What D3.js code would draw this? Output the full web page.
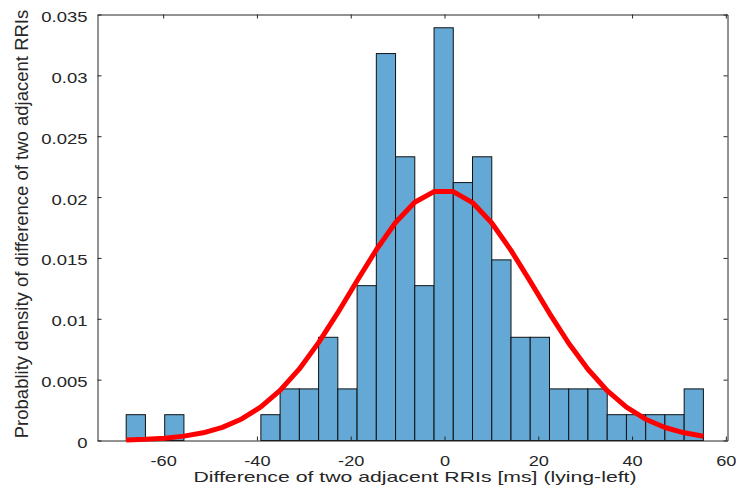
<!DOCTYPE html>
<html>
<head>
<meta charset="utf-8">
<script src="https://cdn.jsdelivr.net/npm/d3@7"></script>
<style>
  html, body { margin: 0; padding: 0; background: #ffffff; }
  svg { display: block; }
</style>
</head>
<body>
<div id="chart"></div>
<script>
// ---- data ----
const binEdges = [-67.88, -63.78, -59.67, -55.57, -51.47, -47.37, -43.26, -39.16, -35.06, -30.95,
                  -26.85, -22.75, -18.64, -14.54, -10.44, -6.34, -2.23, 1.87, 5.97, 10.08,
                  14.18, 18.28, 22.39, 26.49, 30.59, 34.70, 38.80, 42.90, 47.00, 51.11, 55.21];
const density = [0.00212, 0, 0.00212, 0, 0, 0, 0, 0.00212, 0.00424, 0.00424,
                 0.00848, 0.00424, 0.01272, 0.03179, 0.02331, 0.01272, 0.03391, 0.02119, 0.02331, 0.01484,
                 0.00848, 0.00848, 0.00424, 0.00424, 0.00424, 0.00212, 0.00212, 0.00212, 0.00212, 0.00424];
const fitCurve = [0.00005, 0.00010, 0.00019, 0.00036, 0.00063, 0.00108, 0.00177, 0.00276, 0.00412, 0.00588,
                  0.00804, 0.01050, 0.01312, 0.01567, 0.01791, 0.01957, 0.02045, 0.02045, 0.01955, 0.01787,
                  0.01562, 0.01307, 0.01045, 0.00799, 0.00585, 0.00409, 0.00274, 0.00175, 0.00107, 0.00063, 0.00035];
const xTickValues = [-60, -40, -20, 0, 20, 40, 60];
const xTickLabels = ["-60", "-40", "-20", "0", "20", "40", "60"];
const yTickValues = [0, 0.005, 0.01, 0.015, 0.02, 0.025, 0.03, 0.035];
const yTickLabels = ["0", "0.005", "0.01", "0.015", "0.02", "0.025", "0.03", "0.035"];
const xLabel = "Difference of two adjacent RRIs [ms] (lying-left)";
const yLabel = "Probablity density of difference of two adjacent RRIs";

(function () {
// ---- layout ----
const W = 736, H = 497;
const pLeft = 97.5, pRight = 727.5, pTop = 14.5, pBottom = 440.5;
const font = "'Liberation Sans', Arial, Helvetica, sans-serif";
const axisColor = "#262626";

const svg = d3.select("#chart").append("svg")
  .attr("width", W).attr("height", H)
  .style("background", "#ffffff");

const x = d3.scaleLinear().domain([-74, 60.35]).range([pLeft, pRight]);
const y = d3.scaleLinear().domain([0, 0.035]).range([pBottom, pTop]);

function stretch(sel, k) {
  sel.each(function () {
    const w = this.getComputedTextLength();
    d3.select(this).attr("textLength", w * k).attr("lengthAdjust", "spacingAndGlyphs");
  });
}

// ---- bars ----
const bins = density.map((d, i) => ({ x0: binEdges[i], x1: binEdges[i + 1], v: d }));
svg.append("g").selectAll("rect")
  .data(bins.filter(b => b.v > 0))
  .join("rect")
  .attr("x", b => x(b.x0))
  .attr("y", b => y(b.v))
  .attr("width", b => x(b.x1) - x(b.x0))
  .attr("height", b => y(0) - y(b.v))
  .attr("fill", "#64a9d6")
  .attr("stroke", "#111111")
  .attr("stroke-width", 1);

// ---- axes ----
function styleAxis(g) {
  g.select(".domain").attr("stroke", axisColor).attr("stroke-width", 1);
  g.selectAll(".tick line").attr("stroke", axisColor).attr("stroke-width", 1);
}

const gx = svg.append("g").attr("transform", `translate(0,${pBottom})`)
  .call(d3.axisBottom(x).tickValues(xTickValues).tickSizeInner(-4).tickSizeOuter(0)
        .tickFormat((d, i) => xTickLabels[i]));
styleAxis(gx);
gx.selectAll(".tick text")
  .attr("y", 25).attr("dy", 0)
  .attr("fill", axisColor)
  .style("font-family", font).style("font-size", "14px")
  .call(stretch, 1.3);

const gxt = svg.append("g").attr("transform", `translate(0,${pTop})`)
  .call(d3.axisTop(x).tickValues(xTickValues).tickSizeInner(-4).tickSizeOuter(0).tickFormat(""));
styleAxis(gxt);

const gy = svg.append("g").attr("transform", `translate(${pLeft},0)`)
  .call(d3.axisLeft(y).tickValues(yTickValues).tickSizeInner(-4).tickSizeOuter(0)
        .tickFormat((d, i) => yTickLabels[i]));
styleAxis(gy);
gy.selectAll(".tick text")
  .attr("x", -10).attr("y", 7).attr("dy", 0)
  .attr("text-anchor", "end")
  .attr("fill", axisColor)
  .style("font-family", font).style("font-size", "14px")
  .call(stretch, 1.32);

const gyr = svg.append("g").attr("transform", `translate(${pRight},0)`)
  .call(d3.axisRight(y).tickValues(yTickValues).tickSizeInner(-4).tickSizeOuter(0).tickFormat(""));
styleAxis(gyr);

// ---- fitted normal curve ----
const line = d3.line().x((d, i) => x(binEdges[i])).y(d => y(d));
svg.append("path")
  .datum(fitCurve)
  .attr("d", line)
  .attr("fill", "none")
  .attr("stroke", "#ff0000")
  .attr("stroke-width", 5)
  .attr("stroke-linejoin", "round")
  .attr("stroke-linecap", "butt");

// ---- axis labels ----
svg.append("text")
  .attr("x", 415).attr("y", 481.5)
  .attr("text-anchor", "middle")
  .attr("fill", axisColor)
  .style("font-family", font).style("font-size", "15px")
  .text(xLabel)
  .call(stretch, 1.415);

svg.append("text")
  .attr("transform", "translate(28.3,224) rotate(-90)")
  .attr("text-anchor", "middle")
  .attr("fill", axisColor)
  .style("font-family", font).style("font-size", "18.5px")
  .text(yLabel);
})();
</script>
</body>
</html>
